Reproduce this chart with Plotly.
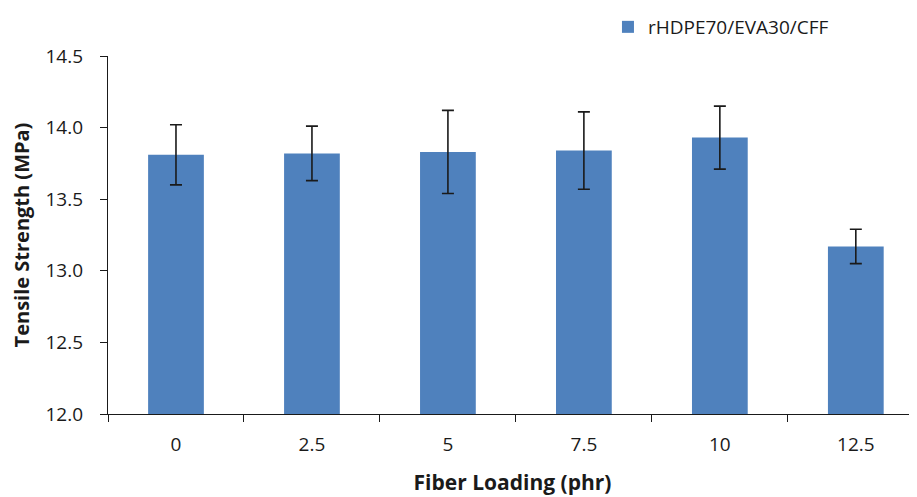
import plotly.graph_objects as go

categories = ["0", "2.5", "5", "7.5", "10", "12.5"]
tensile = [13.81, 13.82, 13.83, 13.84, 13.93, 13.17]
errors = [0.21, 0.19, 0.29, 0.27, 0.22, 0.12]
series_name = "rHDPE70/EVA30/CFF"
ytick_vals = [12.0, 12.5, 13.0, 13.5, 14.0, 14.5]
ytick_text = ["12.0", "12.5", "13.0", "13.5", "14.0", "14.5"]

FONT = "'Open Sans', Lato, sans-serif"
W, H = 909, 489  # page body adds an 8px offset

fig = go.Figure()
fig.add_trace(go.Bar(
    x=categories, y=tensile, name=series_name,
    marker=dict(color="#4F81BD", line=dict(width=0)),
    width=0.41,
    error_y=dict(type="data", array=errors, visible=True,
                 color="#1a1a1a", thickness=1.6, width=6),
    showlegend=True,
))

fig.update_layout(
    width=W, height=H,
    margin=dict(l=100, r=0, t=48, b=83, autoexpand=False),
    paper_bgcolor="white", plot_bgcolor="white",
    font=dict(family=FONT, size=19, color="#1a1a1a"),
    showlegend=True,
    legend=dict(x=0.618, y=1 + 4 / H, xref="paper", yref="container",
                xanchor="left", yanchor="top",
                font=dict(size=19), bgcolor="rgba(0,0,0,0)",
                borderwidth=0, itemwidth=30),
    bargap=0.59,
)
fig.update_xaxes(
    type="category", range=[-0.5, 5.45], automargin=False,
    showline=True, linecolor="#1a1a1a", linewidth=1.2,
    ticks="outside", ticklen=7, tickcolor="#1a1a1a", tickwidth=1.2,
    tickson="boundaries", showgrid=False, zeroline=False,
    ticklabelstandoff=13,
    title=dict(text="<b>Fiber Loading (phr)</b>", font=dict(size=21), standoff=19),
)
fig.update_yaxes(
    range=[12.0, 14.5], tickvals=ytick_vals, ticktext=ytick_text, automargin=False,
    showline=True, linecolor="#1a1a1a", linewidth=1.2,
    ticks="outside", ticklen=7, tickcolor="#1a1a1a", tickwidth=1.2,
    showgrid=False, zeroline=False, ticklabelstandoff=13,
    title=dict(text="<b>Tensile Strength (MPa)</b>", font=dict(size=20), standoff=14),
)

fig.write_html("out.html")
